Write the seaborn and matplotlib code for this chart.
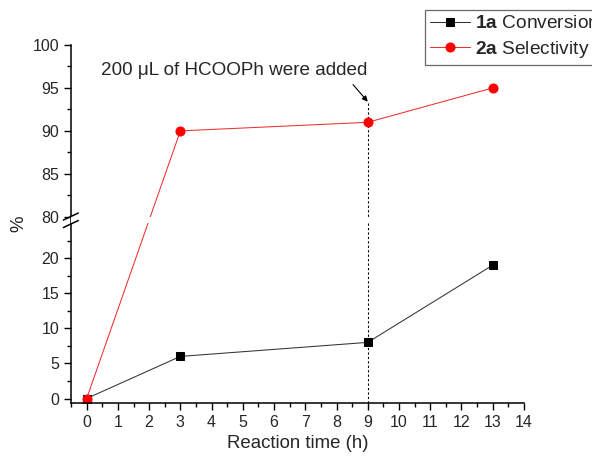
import numpy as np
import pandas as pd
import matplotlib
matplotlib.use("Agg")
import matplotlib.pyplot as plt
import seaborn as sns
from matplotlib.ticker import FixedLocator, FuncFormatter

sns.set_style("ticks")
plt.rcParams["font.family"] = ["Liberation Sans", "DejaVu Sans"]
plt.rcParams["mathtext.fontset"] = "custom"
plt.rcParams["mathtext.rm"] = "Liberation Sans"
plt.rcParams["mathtext.bf"] = "Liberation Sans:bold"

# data
time_h = [0, 3, 9, 13]
conversion = [0, 6, 8, 19]
selectivity = [0, 90, 91, 95]

df = pd.DataFrame({"time": time_h + time_h,
                   "value": conversion + selectivity,
                   "series": ["conv"] * 4 + ["sel"] * 4})

# broken axis: 0-25 at 7 px/unit, 80-100 at 8.565 px/unit
xp = [-1000, 25, 80, 1000]
fp = [-7000, 175, 181.3, 181.3 + 8.565 * 920]

def fwd(y):
    return np.interp(y, xp, fp)

def inv(y):
    return np.interp(y, fp, xp)

fig = plt.figure(figsize=(5.92, 4.57), dpi=100)
ax = fig.add_axes([0.120, 0.118, 0.765, 0.7835])
ax.set_yscale("function", functions=(fwd, inv))

sns.lineplot(data=df[df.series == "conv"], x="time", y="value", ax=ax,
             color="#333333", lw=0.75, marker="s", markersize=5.6,
             markerfacecolor="black", markeredgecolor="black",
             label=r"$\mathbf{1a}$ Conversion", zorder=2)
sns.lineplot(data=df[df.series == "sel"], x="time", y="value", ax=ax,
             color="#f03030", lw=0.75, marker="o", markersize=6.5,
             markerfacecolor="red", markeredgecolor="red",
             label=r"$\mathbf{2a}$ Selectivity", zorder=2)

ax.set_xlim(-0.5, 14)
ax.set_ylim(-0.65, 100)

ax.xaxis.set_major_locator(FixedLocator(range(0, 15)))
ax.xaxis.set_minor_locator(FixedLocator(np.arange(-0.5, 14, 0.5)))
ax.yaxis.set_major_locator(FixedLocator([0, 5, 10, 15, 20, 80, 85, 90, 95, 100]))
ax.yaxis.set_minor_locator(FixedLocator([2.5, 7.5, 12.5, 17.5, 22.5,
                                         82.5, 87.5, 92.5, 97.5]))
ax.yaxis.set_major_formatter(FuncFormatter(lambda v, p: "%g" % v))
ax.xaxis.set_major_formatter(FuncFormatter(lambda v, p: "%g" % v))
ax.tick_params(which="major", length=5, width=1, labelsize=11.5, color="black")
ax.tick_params(which="minor", length=3, width=1, color="black")

sns.despine(ax=ax)
for s in ["left", "bottom"]:
    ax.spines[s].set_linewidth(1.1)
    ax.spines[s].set_color("black")

# break gap
ax.axhspan(25, 80, color="white", zorder=3, lw=0)
for py in [216.5, 224]:
    y0 = 1 - (py + 3.5 - 45) / 358.0
    y1 = 1 - (py - 3.5 - 45) / 358.0
    ax.plot([-0.017, 0.016], [y0, y1], transform=ax.transAxes, color="black",
            lw=1.1, clip_on=False, zorder=5)

# vertical dotted line and annotation
ax.plot([9, 9], [-0.65, 93.4], color="black", lw=0.8, ls=(0, (2, 2)), zorder=1)
ax.annotate("200 μL of HCOOPh were added", xy=(9, 93.4), xytext=(0.45, 97.0),
            fontsize=13.6, va="center", ha="left",
            arrowprops=dict(arrowstyle="-|>", color="black", lw=0.8,
                            shrinkA=2, shrinkB=0, mutation_scale=8,
                            relpos=(0.93, 0.0)))

ax.set_xlabel("Reaction time (h)", fontsize=13.4)
ax.set_ylabel("%", fontsize=13.4)

leg = ax.legend(loc="upper left", bbox_to_anchor=(0.718, 0.978),
                bbox_transform=fig.transFigure, fontsize=13.8, frameon=True,
                fancybox=False, edgecolor="#444444", handlelength=2.1,
                handletextpad=0.25, borderpad=0.25, labelspacing=0.35,
                borderaxespad=0)
leg.get_frame().set_linewidth(0.9)

fig.savefig("out.png", dpi=100)
